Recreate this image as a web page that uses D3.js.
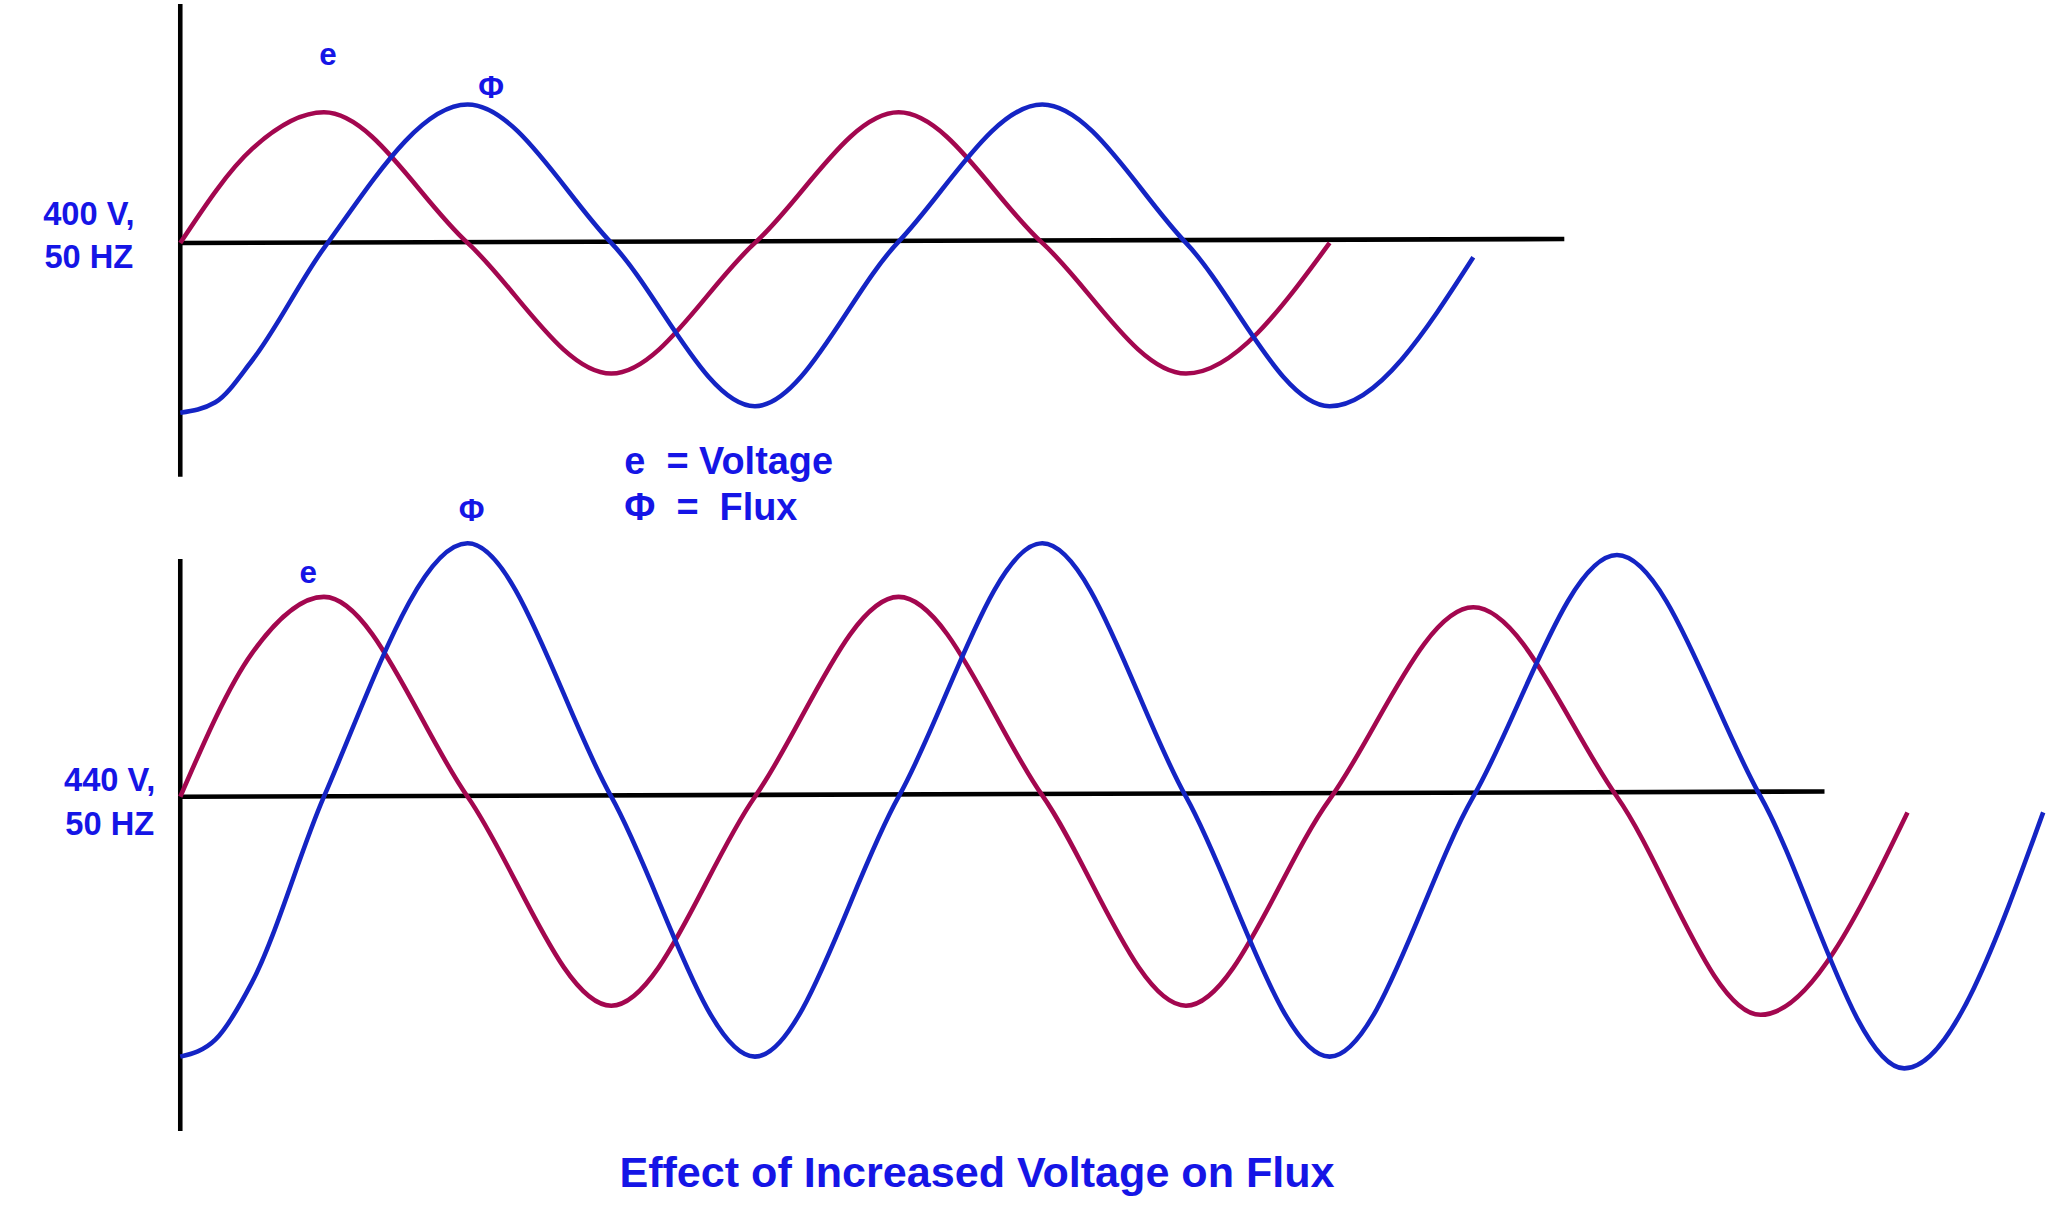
<!DOCTYPE html>
<html>
<head>
<meta charset="utf-8">
<script src="https://cdn.jsdelivr.net/npm/d3@7"></script>
<style>
  body { margin: 0; background: #fff; }
  text { font-family: "Liberation Sans", Arial, sans-serif; font-weight: bold; fill: #1515e6; white-space: pre; }
</style>
</head>
<body>
<div id="chart"></div>
<script>
// angle (degrees) -> value at peaks, troughs, zero crossings
const topVoltage = [[0,0],[45,72],[90,100],[180,0],[270,-100],[360,0],[450,100],[540,0],[630,-100],[720,0]];
const topFlux = [[0,-130],[22,-122],[45,-90],[90,-4],[180,106],[270,0],[360,-125],[450,1],[540,106],[630,0],[720,-125],[810,-11]];
const botVoltage = [[0,0],[45,110],[90,153],[180,0],[270,-160],[360,0],[450,153],[540,1],[630,-160],[720,-2],[810,145],[900,0],[990,-167],[1082,-12]];
const botFlux = [[0,-199],[22,-186],[45,-142],[90,0],[180,194],[270,0],[360,-199],[450,0],[540,194],[630,0],[720,-199],[810,0],[900,185],[990,0],[1080,-208],[1167,-12]];
const topAxisEnd = [867, 3];   // horizontal axis end angle, drift
const botAxisEnd = [1030, 4];
const topLabels = ["400 V,", "50 HZ"];
const botLabels = ["440 V,", "50 HZ"];
const legend = ["e  = Voltage", "Φ  =  Flux"];
const title = "Effect of Increased Voltage on Flux";

const W = 1568, H = 922.6;
const svg = d3.select("#chart").append("svg")
  .attr("width", 2048).attr("height", 1205)
  .attr("viewBox", `0 0 ${W} ${H}`);

const red = "#a3074f", blue = "#1424c4";
const x = d3.scaleLinear().domain([0, 360]).range([138, 578]);

function panel(y0, vTop, vBot, axisEnd, voltage, flux) {
  const y = d3.scaleLinear().domain([-100, 100]).range([y0 + 100, y0 - 100]);
  const line = d3.line().x(d => x(d[0])).y(d => y(d[1])).curve(d3.curveMonotoneX);
  svg.append("line").attr("x1", 138).attr("x2", 138).attr("y1", vTop).attr("y2", vBot)
    .attr("stroke", "#000").attr("stroke-width", 3.5);
  svg.append("path").datum([[0, 0], axisEnd]).attr("d", d3.line().x(d => x(d[0])).y(d => y(d[1])))
    .attr("stroke", "#000").attr("stroke-width", 3.5);
  svg.append("path").datum(voltage).attr("d", line).attr("fill", "none").attr("stroke", red).attr("stroke-width", 3.5);
  svg.append("path").datum(flux).attr("d", line).attr("fill", "none").attr("stroke", blue).attr("stroke-width", 3.5);
}

panel(186, 3, 365, topAxisEnd, topVoltage, topFlux);
panel(610, 428, 866, botAxisEnd, botVoltage, botFlux);

function label(t, lx, ly, size, anchor) {
  svg.append("text").attr("x", lx).attr("y", ly).attr("font-size", size)
    .attr("text-anchor", anchor || "middle").text(t);
}
label("e", 251, 50, 24);
label("Φ", 376, 75, 24);
label(topLabels[0], 68, 172, 25);
label(topLabels[1], 68, 205, 25);
label("Φ", 361, 399, 24);
label("e", 236, 446, 24);
label(botLabels[0], 84, 606, 25);
label(botLabels[1], 84, 639, 25);
label(legend[0], 478, 363, 29, "start");
label(legend[1], 478, 398, 29, "start");
label(title, 748, 909, 33);
</script>
</body>
</html>
